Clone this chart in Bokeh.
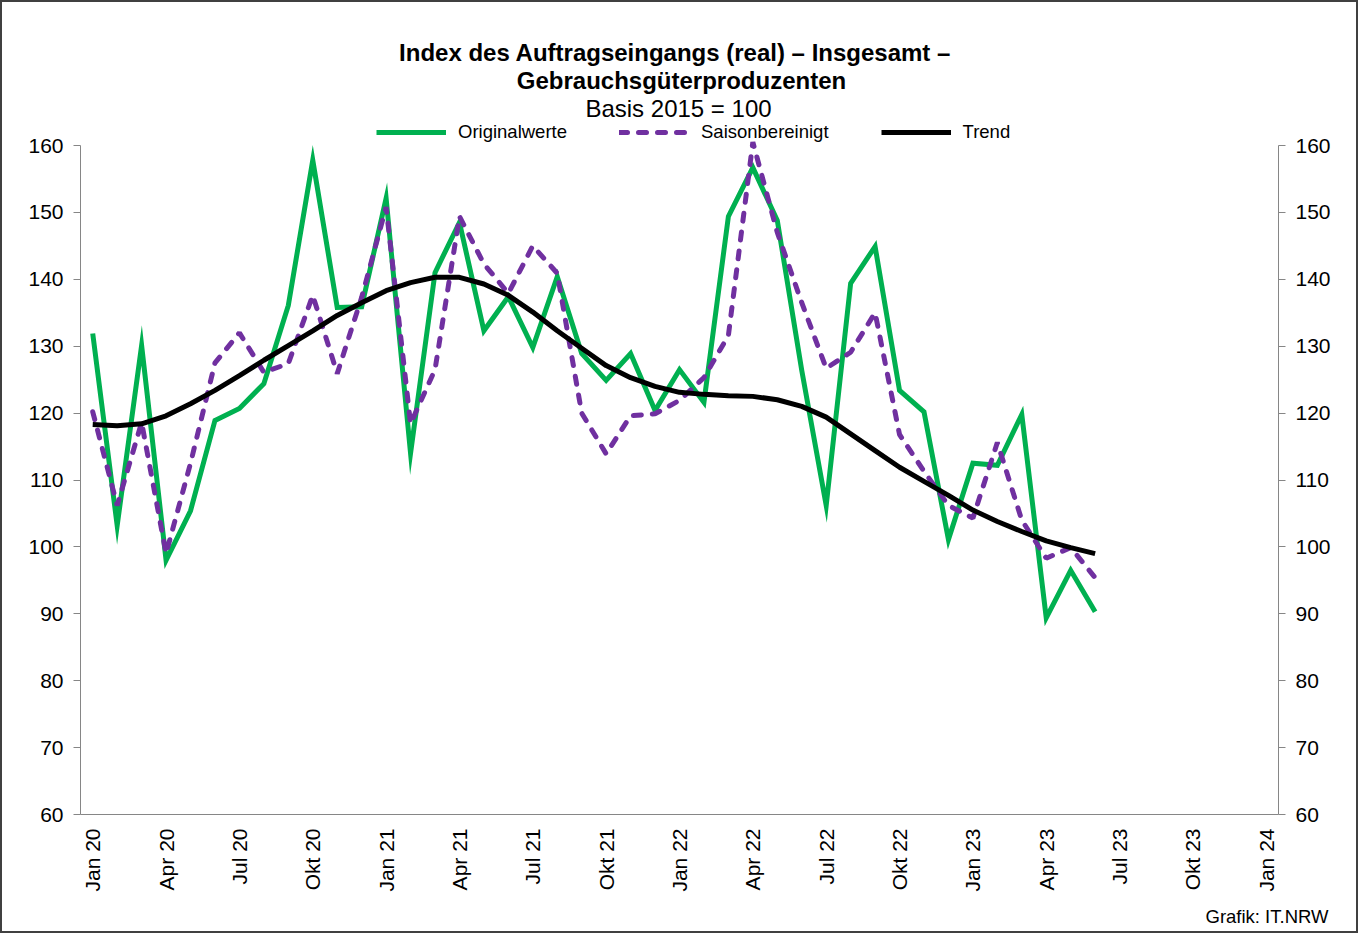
import math
from bokeh.plotting import figure
from bokeh.models import (Range1d, FixedTicker, LinearAxis, Legend, LegendItem, Title, Label)
from bokeh.embed import file_html
from bokeh.resources import INLINE

# ---- data ----
months = ["Jan 20", "Feb 20", "Mär 20", "Apr 20", "Mai 20", "Jun 20", "Jul 20", "Aug 20", "Sep 20", "Okt 20", "Nov 20", "Dez 20",
          "Jan 21", "Feb 21", "Mär 21", "Apr 21", "Mai 21", "Jun 21", "Jul 21", "Aug 21", "Sep 21", "Okt 21", "Nov 21", "Dez 21",
          "Jan 22", "Feb 22", "Mär 22", "Apr 22", "Mai 22", "Jun 22", "Jul 22", "Aug 22", "Sep 22", "Okt 22", "Nov 22", "Dez 22",
          "Jan 23", "Feb 23", "Mär 23", "Apr 23", "Mai 23", "Jun 23"]

originalwerte = [131.9, 103.2, 130.1, 98.0, 105.4, 118.9, 120.7, 124.4, 136.1, 157.8, 135.8, 135.9,
                 152.1, 114.0, 141.0, 148.5, 132.3, 137.4, 129.8, 140.4, 128.9, 124.9, 128.9, 120.4,
                 126.5, 121.6, 149.4, 156.7, 148.8, 126.4, 106.2, 139.4, 144.9, 123.4, 120.2, 101.1,
                 112.5, 112.2, 119.8, 89.4, 96.5, 90.3]

saisonbereinigt = [120.2, 106.2, 118.6, 99.0, 112.5, 127.5, 132.0, 126.1, 127.4, 137.6, 125.9, 137.3,
                   150.8, 118.4, 126.5, 149.4, 142.3, 137.9, 145.0, 140.9, 120.0, 113.9, 119.6, 119.9,
                   121.9, 125.3, 131.6, 160.5, 147.0, 136.5, 126.7, 129.1, 135.0, 116.8, 111.3, 106.2,
                   104.3, 115.6, 104.0, 98.3, 99.9, 95.4]

trend = [118.3, 118.1, 118.4, 119.6, 121.4, 123.4, 125.6, 127.9, 130.1, 132.3, 134.6, 136.5,
         138.3, 139.5, 140.3, 140.3, 139.3, 137.6, 135.1, 132.3, 129.7, 127.1, 125.3, 124.0,
         123.1, 122.8, 122.6, 122.5, 122.0, 121.0, 119.4, 116.9, 114.4, 111.9, 109.8, 107.7,
         105.5, 103.8, 102.3, 100.9, 99.9, 99.0]

tick_labels = ["Jan 20", "Apr 20", "Jul 20", "Okt 20", "Jan 21", "Apr 21", "Jul 21", "Okt 21",
               "Jan 22", "Apr 22", "Jul 22", "Okt 22", "Jan 23", "Apr 23", "Jul 23", "Okt 23", "Jan 24"]
y_ticks = [60, 70, 80, 90, 100, 110, 120, 130, 140, 150, 160]

x = list(range(len(months)))
tick_pos = [3 * i for i in range(len(tick_labels))]

FONT = "Liberation Sans"
AXIS_GRAY = "#868686"

# layout geometry (pixels)
PX_PER_UNIT = 669 / 100.0
AXIS_TOP_PX, FRAME_TOP_PX, FRAME_LEFT_PX = 145, 22, 80
Y_TOP = 160 + (AXIS_TOP_PX - FRAME_TOP_PX) / PX_PER_UNIT

p = figure(width=1358, height=933, output_backend="svg", toolbar_location=None,
           x_range=Range1d(-0.5, 48.5), y_range=Range1d(60, Y_TOP),
           min_border_left=78, min_border_right=82, min_border_top=20, min_border_bottom=121)
p.styles = {"border": "2px solid #404040"}
p.outline_line_color = None
p.xgrid.grid_line_color = None
p.ygrid.grid_line_color = None
p.background_fill_color = "white"
p.border_fill_color = "white"

# x axis
xa = p.xaxis[0]
xa.ticker = FixedTicker(ticks=tick_pos)
xa.major_label_overrides = {t: l for t, l in zip(tick_pos, tick_labels)}
xa.major_label_orientation = math.pi / 2
xa.major_tick_line_color = None
xa.minor_tick_line_color = None
xa.axis_line_color = AXIS_GRAY
xa.major_label_text_font = FONT
xa.major_label_text_font_size = "21px"
xa.major_label_text_color = "black"
xa.major_label_standoff = 8

def style_y(ax):
    ax.ticker = FixedTicker(ticks=y_ticks)
    ax.bounds = (60, 160)
    ax.axis_line_color = AXIS_GRAY
    ax.major_tick_line_color = AXIS_GRAY
    ax.major_tick_out = 7
    ax.major_tick_in = 0
    ax.minor_tick_line_color = None
    ax.major_label_text_font = FONT
    ax.major_label_text_font_size = "21px"
    ax.major_label_text_color = "black"
    ax.major_label_standoff = 10

style_y(p.yaxis[0])
ra = LinearAxis()
style_y(ra)
p.add_layout(ra, "right")

r_orig = p.line(x, originalwerte, line_color="#00B050", line_width=5, line_join="miter")
r_sa = p.line(x, saisonbereinigt, line_color="#7030A0", line_width=5, line_dash="8 11", line_cap="round")
r_tr = p.line(x, trend, line_color="black", line_width=5)

legend = Legend(items=[LegendItem(label="Originalwerte", renderers=[r_orig]),
                       LegendItem(label="Saisonbereinigt", renderers=[r_sa]),
                       LegendItem(label="Trend", renderers=[r_tr])],
                orientation="horizontal", location=(376 - FRAME_LEFT_PX, 814 - 143),
                glyph_width=70, glyph_height=20, label_standoff=12, spacing=52,
                padding=0, margin=0, border_line_color=None, background_fill_alpha=0,
                label_text_font=FONT, label_text_font_size="18.5px", label_text_color="black")
p.add_layout(legend, "center")

def lab(px, py, text, size, bold=False, align="center"):
    xd = (px - FRAME_LEFT_PX) / (1198 / 49) - 0.5
    yd = 160 + (AXIS_TOP_PX - py) / PX_PER_UNIT
    p.add_layout(Label(x=xd, y=yd, text=text, text_font=FONT, text_font_size=size,
                       text_font_style="bold" if bold else "normal", text_align=align,
                       text_baseline="middle", text_color="black"))

lab(678, 52, "Index des Auftragseingangs (real) – Insgesamt  –", "24px", bold=True)
lab(681, 80, "Gebrauchsgüterproduzenten", "24px", bold=True)
lab(678, 108, "Basis 2015 = 100", "24px")

p.add_layout(Title(text="Grafik: IT.NRW", align="right", offset=-50, text_font=FONT,
                   text_font_size="18.5px", text_font_style="normal", text_color="black",
                   standoff=18), "below")

open("out.html", "w").write(file_html(p, INLINE))
